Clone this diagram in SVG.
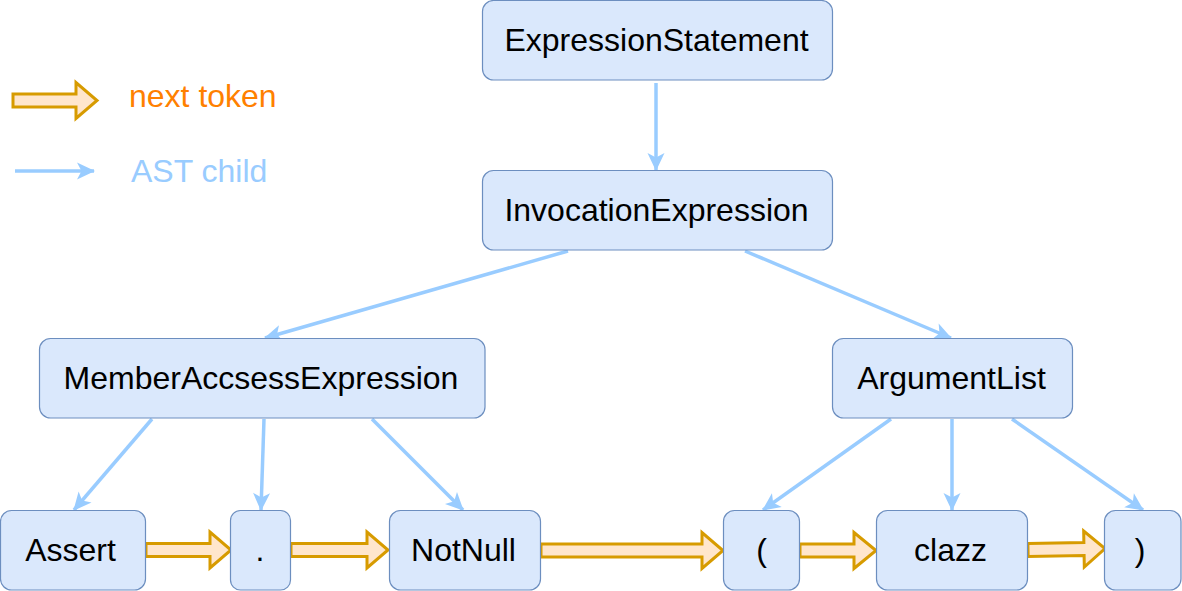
<svg xmlns="http://www.w3.org/2000/svg" width="1182" height="591" viewBox="0 0 1182 591">
  <style>
    .node rect { fill: #dae8fc; stroke: #6c8ebf; stroke-width: 1.2; }
    .node text { font-family: "Liberation Sans", Arial, sans-serif; font-size: 32px; fill: #000000; text-anchor: middle; }
    .ast { stroke: #99ccff; stroke-width: 3.5; fill: none; marker-end: url(#ah); }
    .tok { fill: #ffe6cc; stroke: #d79b00; stroke-width: 3; stroke-linejoin: miter; }
    .legend { font-family: "Liberation Sans", Arial, sans-serif; font-size: 32px; }
  </style>
  <defs>
    <marker id="ah" markerUnits="userSpaceOnUse" markerWidth="20" markerHeight="20" viewBox="0 0 20 20" refX="18" refY="10" orient="auto">
      <path d="M1,1.5 L19,10 L1,18.5 L5.5,10 z" fill="#99ccff"/>
    </marker>
  </defs>

  <g id="legend">
    <polygon class="tok" points="13,94 76,94 76,82.5 97,100.5 76,118.5 76,107 13,107"/>
    <text class="legend" x="129" y="107" fill="#ff8000">next token</text>
    <line class="ast" x1="15" y1="171" x2="94" y2="171"/>
    <text class="legend" x="131" y="182" fill="#99ccff">AST child</text>
  </g>

  <g id="connectors">
    <line class="ast" x1="656" y1="83" x2="656" y2="170"/>
    <line class="ast" x1="568" y1="251" x2="265" y2="338"/>
    <line class="ast" x1="745" y1="251" x2="951" y2="338"/>
    <line class="ast" x1="152" y1="419" x2="74" y2="510"/>
    <line class="ast" x1="264" y1="419" x2="261" y2="510"/>
    <line class="ast" x1="372" y1="419" x2="463" y2="510"/>
    <line class="ast" x1="891" y1="419" x2="763" y2="510"/>
    <line class="ast" x1="952" y1="419" x2="952" y2="510"/>
    <line class="ast" x1="1012" y1="419" x2="1143" y2="510"/>
    <polygon class="tok" points="146,543.5 210,543.5 210,532 231,550 210,568 210,556.5 146,556.5"/>
    <polygon class="tok" points="291,543.5 367,543.5 367,532 388,550 367,568 367,556.5 291,556.5"/>
    <polygon class="tok" points="541,544 702,544 702,532.5 723,550.5 702,568.5 702,557 541,557"/>
    <polygon class="tok" points="800,544 854,544 854,532.5 876,550.5 854,568.5 854,557 800,557"/>
    <polygon class="tok" points="1028,543.5 1084,543.5 1084,532 1105,550 1084,568 1084,556.5 1028,556.5" transform="rotate(-1 1028 550)"/>
  </g>

  <g id="n-expressionstatement" class="node">
    <rect x="482.5" y="0.5" width="350" height="79.5" rx="11"/>
    <text x="656.5" y="51">ExpressionStatement</text>
  </g>
  <g id="n-invocationexpression" class="node">
    <rect x="482.5" y="170.5" width="350" height="79.5" rx="11"/>
    <text x="656.5" y="221">InvocationExpression</text>
  </g>
  <g id="n-memberaccsessexpression" class="node">
    <rect x="39.5" y="338.5" width="445.5" height="79.5" rx="11"/>
    <text x="261" y="389">MemberAccsessExpression</text>
  </g>
  <g id="n-argumentlist" class="node">
    <rect x="832.5" y="338.5" width="240" height="79.5" rx="11"/>
    <text x="951.5" y="389">ArgumentList</text>
  </g>
  <g id="n-assert" class="node">
    <rect x="0.5" y="510.5" width="145" height="79.5" rx="11"/>
    <text x="70.5" y="561">Assert</text>
  </g>
  <g id="n-dot" class="node">
    <rect x="230.5" y="510.5" width="60" height="79.5" rx="10"/>
    <text x="260" y="561">.</text>
  </g>
  <g id="n-notnull" class="node">
    <rect x="389.5" y="510.5" width="151" height="79.5" rx="11"/>
    <text x="463.5" y="561">NotNull</text>
  </g>
  <g id="n-lparen" class="node">
    <rect x="723.5" y="510.5" width="76" height="79.5" rx="11"/>
    <text x="761.5" y="561">(</text>
  </g>
  <g id="n-clazz" class="node">
    <rect x="876.5" y="510.5" width="151" height="79.5" rx="11"/>
    <text x="950.5" y="561">clazz</text>
  </g>
  <g id="n-rparen" class="node">
    <rect x="1104.5" y="510.5" width="76.5" height="79.5" rx="11"/>
    <text x="1140" y="561">)</text>
  </g>
</svg>
